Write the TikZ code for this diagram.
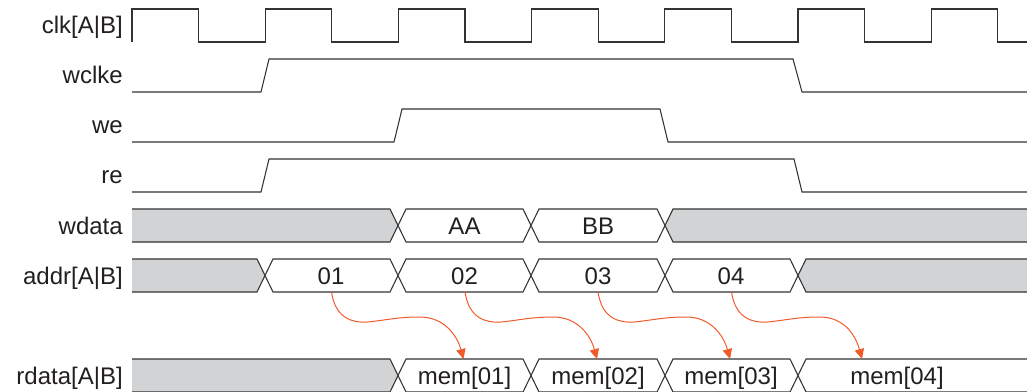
\documentclass[tikz,border=0pt]{standalone}
\usepackage{fontspec}
\setmainfont{Liberation Sans}
\usetikzlibrary{arrows.meta}
\definecolor{sig}{HTML}{333333}
\definecolor{txt}{HTML}{231F20}
\definecolor{busgray}{HTML}{D1D3D4}
\definecolor{arrc}{HTML}{F15A2B}
\newcommand{\tdseg}[5]{% x1 x2 ytop fill name-text
  \filldraw[busline, fill=#4] (#1,#3+16.5) -- (#1+8,#3) -- (#2-8,#3) -- (#2,#3+16.5) -- (#2-8,#3+33) -- (#1+8,#3+33) -- cycle;}
\newcommand{\tdfirst}[3]{% x2 ytop fill
  \fill[#3] (132,#2) -- (#1-8,#2) -- (#1,#2+16.5) -- (#1-8,#2+33) -- (132,#2+33) -- cycle;
  \draw[busline] (132,#2) -- (#1-8,#2) -- (#1,#2+16.5) -- (#1-8,#2+33) -- (132,#2+33);}
\newcommand{\tdlast}[3]{% x1 ytop fill
  \fill[#3] (1030,#2) -- (#1+8,#2) -- (#1,#2+16.5) -- (#1+8,#2+33) -- (1030,#2+33) -- cycle;
  \draw[busline] (1030,#2) -- (#1+8,#2) -- (#1,#2+16.5) -- (#1+8,#2+33) -- (1030,#2+33);}
\begin{document}
\begin{tikzpicture}[x=0.75pt,y=-0.75pt,
  sigline/.style={draw=sig, line width=0.8pt, line join=miter},
  busline/.style={draw=sig, line width=0.8pt, line join=miter},
  lbl/.style={anchor=base east, inner sep=0pt, text=txt, font=\fontsize{18pt}{21pt}\selectfont},
  val/.style={anchor=base, inner sep=0pt, text=txt, font=\fontsize{18pt}{21pt}\selectfont},
  arr/.style={draw=arrc, line width=0.75pt, -{Triangle[length=7.5pt,width=7pt]}}]
\useasboundingbox (0,0) rectangle (1027,392);
% labels
\node[lbl] (lclk) at (123,34) {clk[A|B]};
\node[lbl] (lwclke) at (123,84) {wclke};
\node[lbl] (lwe) at (123,134) {we};
\node[lbl] (lre) at (123,184) {re};
\node[lbl] (lwdata) at (123,234) {wdata};
\node[lbl] (laddr) at (123,284) {addr[A|B]};
\node[lbl] (lrdata) at (123,384) {rdata[A|B]};
% clock
\draw[sigline] (132,42) -- (132,9) -- (198.6,9) -- (198.6,42) -- (265.2,42) -- (265.2,9)
  -- (331.8,9) -- (331.8,42) -- (398.4,42) -- (398.4,9) -- (465,9) -- (465,42)
  -- (531.6,42) -- (531.6,9) -- (598.2,9) -- (598.2,42) -- (664.8,42) -- (664.8,9)
  -- (731.4,9) -- (731.4,42) -- (798,42) -- (798,9) -- (864.6,9) -- (864.6,42)
  -- (931.2,42) -- (931.2,9) -- (997.8,9) -- (997.8,42) -- (1030,42);
% wclke
\draw[sigline] (132,92) -- (261,92) -- (269,59) -- (793,59) -- (802,92) -- (1030,92);
% we
\draw[sigline] (132,142) -- (394,142) -- (402,109) -- (660,109) -- (668,142) -- (1030,142);
% re
\draw[sigline] (132,192) -- (261,192) -- (269,159) -- (794,159) -- (802,192) -- (1030,192);
% wdata
\tdfirst{398}{209}{busgray}
\tdseg{398}{531}{209}{white}{}
\tdseg{531}{665}{209}{white}{}
\tdlast{665}{209}{busgray}
\node[val] (vAA) at (464.5,234) {AA};
\node[val] (vBB) at (598,234) {BB};
% addr
\tdfirst{265}{259}{busgray}
\tdseg{265}{398}{259}{white}{}
\tdseg{398}{531}{259}{white}{}
\tdseg{531}{665}{259}{white}{}
\tdseg{665}{798}{259}{white}{}
\tdlast{798}{259}{busgray}
\node[val] (v01) at (331,284) {01};
\node[val] (v02) at (464.5,284) {02};
\node[val] (v03) at (598,284) {03};
\node[val] (v04) at (731,284) {04};
% rdata
\tdfirst{398}{359}{busgray}
\tdseg{398}{531}{359}{white}{}
\tdseg{531}{665}{359}{white}{}
\tdseg{665}{798}{359}{white}{}
\tdseg{798}{1060}{359}{white}{}
\node[val] (m01) at (464.5,384) {mem[01]};
\node[val] (m02) at (598,384) {mem[02]};
\node[val] (m03) at (731,384) {mem[03]};
\node[val] (m04) at (897,384) {mem[04]};
% arrows
\coordinate (s1) at (331.5,292); \coordinate (e1) at (463.5,359);
\coordinate (s2) at (465,292);   \coordinate (e2) at (597,359);
\coordinate (s3) at (598,292);   \coordinate (e3) at (730,359);
\coordinate (s4) at (731.5,292); \coordinate (e4) at (862,359);
\foreach \i in {1,2,3,4}{
  \draw[arr] (s\i) .. controls +(4,26) and +(-16,1) .. ++(36,30)
    .. controls +(20,-2) and +(-22,0) .. ++(52,-5)
    .. controls +(26,0) and +(-6,-22) .. (e\i);
}
\end{tikzpicture}
\end{document}
